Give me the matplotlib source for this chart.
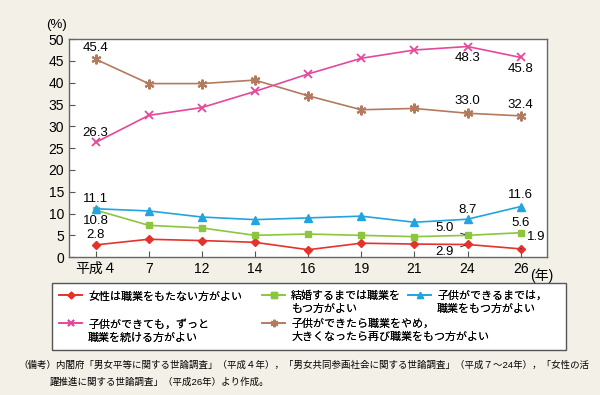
import matplotlib
matplotlib.use("Agg")
import matplotlib.pyplot as plt
from matplotlib.patches import Rectangle

plt.rcParams['font.family'] = ['Liberation Sans', 'Noto Sans CJK JP', 'DejaVu Sans']

# 調査年 (平成)
years = ['平成４', '7', '12', '14', '16', '19', '21', '24', '26']

no_job = [2.8, 4.1, 3.8, 3.4, 1.7, 3.2, 3.0, 2.9, 1.9]
until_marriage = [10.8, 7.3, 6.7, 5.0, 5.3, 5.0, 4.7, 5.0, 5.6]
until_child = [11.1, 10.6, 9.2, 8.6, 9.0, 9.4, 8.0, 8.7, 11.6]
keep_working = [26.3, 32.5, 34.3, 38.0, 42.0, 45.6, 47.5, 48.3, 45.8]
quit_return = [45.4, 39.8, 39.8, 40.6, 37.0, 33.8, 34.1, 33.0, 32.4]

labels = ['女性は職業をもたない方がよい',
          '結婚するまでは職業を\nもつ方がよい',
          '子供ができるまでは，\n職業をもつ方がよい',
          '子供ができても，ずっと\n職業を続ける方がよい',
          '子供ができたら職業をやめ，\n大きくなったら再び職業をもつ方がよい']

bg = '#f3f0e7'
fig = plt.figure(figsize=(6, 3.95), dpi=100, facecolor=bg)
ax = fig.add_axes([0.115, 0.349, 0.797, 0.552])
ax.set_facecolor('white')

x = list(range(len(years)))
l_red, = ax.plot(x, no_job, color='#e4332c', marker='D', ms=4.5, lw=1.2)
l_green, = ax.plot(x, until_marriage, color='#8cc63e', marker='s', ms=5, lw=1.2)
l_blue, = ax.plot(x, until_child, color='#22a4df', marker='^', ms=6, lw=1.2)
l_pink, = ax.plot(x, keep_working, color='#e5489a', marker='x', ms=6, mew=1.3, lw=1.2)
l_brown, = ax.plot(x, quit_return, color='#b47a5e', marker=(6, 2, 0), ms=7, mew=1.5, lw=1.2)

ax.set_xlim(-0.5, 8.5)
ax.set_ylim(0, 50)
ax.set_yticks(range(0, 51, 5))
ax.set_xticks(x)
ax.set_xticklabels(years)
ax.tick_params(direction='in', length=4, color='#555555', labelsize=10)
for s in ax.spines.values():
    s.set_color('#666666')
    s.set_linewidth(1.0)

ax.text(-0.048, 1.064, '(%)', transform=ax.transAxes, fontsize=9.5, va='center')
ax.text(8.17, -2.45, '(年)', fontsize=10, va='top', ha='left')

fs = 9.5
def lab(i, vals, dy, dx=0, line=False):
    kw = dict(textcoords='offset points', ha='center', va='center', fontsize=fs)
    if line:
        kw['arrowprops'] = dict(arrowstyle='-', color='#333333', lw=0.7, shrinkA=3, shrinkB=2)
    ax.annotate(f'{vals[i]:.1f}', xy=(i, vals[i]), xytext=(dx, dy), **kw)

lab(0, quit_return, 8)
lab(0, keep_working, 6.7)
lab(0, until_child, 7)
lab(0, until_marriage, -8)
lab(0, no_job, 7)
lab(7, keep_working, -8.3)
lab(8, keep_working, -8.4)
lab(7, quit_return, 8.7)
lab(8, quit_return, 7.7)
lab(7, until_child, 6.5)
lab(8, until_child, 8.2)
lab(7, until_marriage, 5, dx=-16.5, line=True)
lab(8, until_marriage, 7)
lab(7, no_job, -5.5, dx=-16.5, line=True)
lab(8, no_job, 8.4, dx=11.5, line=True)

# 凡例の枠
fig.patches.append(Rectangle((0.0867, 0.114), 0.857, 0.170, transform=fig.transFigure,
                             facecolor='white', edgecolor='#555555', lw=1.0, zorder=0))

# 凡例: 1項目ずつ配置 (マーカーは1行目に揃える)
leg_items = [(l_red, labels[0], 59, 291), (l_green, labels[1], 262, 291),
             (l_blue, labels[2], 408, 291), (l_pink, labels[3], 59, 319),
             (l_brown, labels[4], 262, 319)]
for h, t, px, py in leg_items:
    lg = fig.legend([h], [t], loc='upper left', bbox_to_anchor=(px / 600, 1 - py / 395),
                    frameon=False, fontsize=7.9, handlelength=2.1, handletextpad=0.55,
                    borderpad=0, borderaxespad=0, markerscale=0.75, handleheight=1.0)
    for col in lg._legend_handle_box.get_children():
        for row in col.get_children():
            row.align = 'top'
    for txt in lg.get_texts():
        txt.set_linespacing(1.35)
    fig.add_artist(lg)

fig.text(0.03, 0.076, '（備考）内閣府「男女平等に関する世論調査」（平成４年），「男女共同参画社会に関する世論調査」（平成７～24年），「女性の活',
         fontsize=6.8, va='center')
fig.text(0.083, 0.033, '躍推進に関する世論調査」（平成26年）より作成。', fontsize=6.8, va='center')

fig.savefig('out.png', dpi=100, facecolor=bg)
